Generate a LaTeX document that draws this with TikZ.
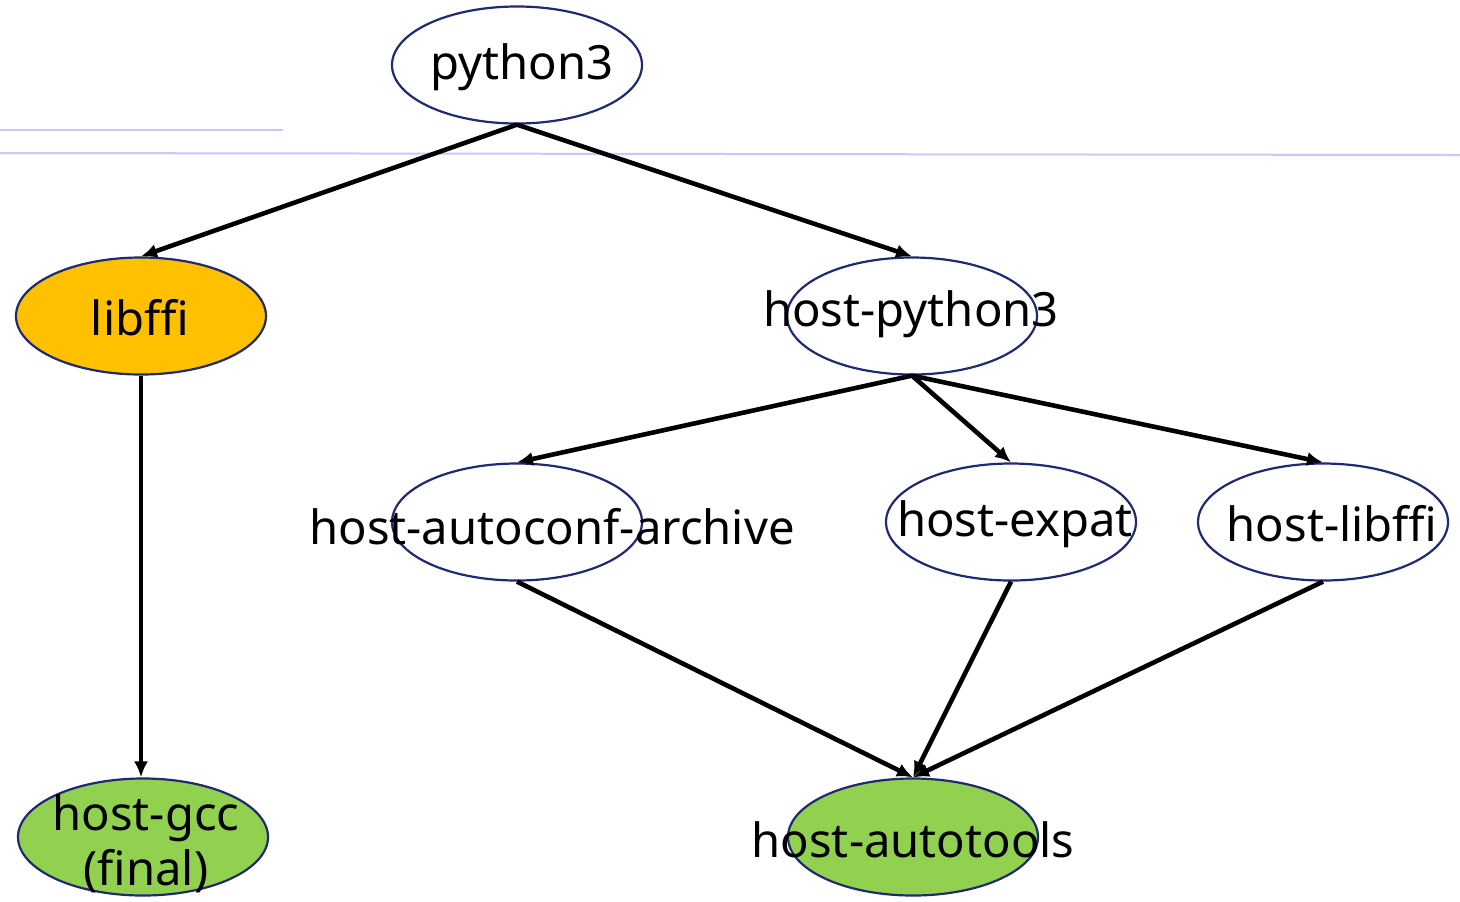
\documentclass[tikz,border=0pt]{standalone}
\usepackage{fontspec}
\setmainfont{Noto Sans}
\usepackage{xcolor}
\usetikzlibrary{arrows.meta, shapes.geometric}
\definecolor{pkgedge}{HTML}{1F2A70}
\definecolor{pkgyellow}{HTML}{FFC000}
\definecolor{pkggreen}{HTML}{92D050}
\definecolor{ruleblue}{HTML}{C3CBF6}

\begin{document}
\begin{tikzpicture}[
    x=0.5pt, y=-0.5pt,
    font=\fontsize{23.6}{27.5}\selectfont,
    pkg/.style={ellipse, draw=pkgedge, line width=1.1pt, fill=white,
        minimum width=125pt, minimum height=58.5pt, inner sep=0pt},
    target/.style={pkg, fill=pkggreen},
    changed/.style={pkg, fill=pkgyellow},
    pkgname/.style={inner sep=0pt, align=center},
    dep/.style={-{Latex[length=8pt, width=7pt]}, line width=2.3pt},
    bgrule/.style={ruleblue, line width=1pt}
]
\useasboundingbox (0,0) rectangle (1460,901);

% ---- faint rules in the background ----
\draw[bgrule] (0,130) -- (283,130);
\draw[bgrule] (0,153) -- (1460,155);

% ---- packages ----
\node[pkg] (py) at (517,65) {};
\node[changed] (ffi) at (141,316) {};
\node[pkg] (hpy) at (912,316) {};
\node[pkg] (aca) at (517,522) {};
\node[pkg] (hexp) at (1011,522) {};
\node[pkg] (hffi) at (1323,522) {};
\node[target] (gcc) at (143,837) {};
\node[target] (atools) at (913,837) {};

% ---- package names (wider than the shapes) ----
\node[pkgname] (py-t) at (522,67) {python3};
\node[pkgname] (ffi-t) at (140,318) {libffi};
\node[pkgname] (hpy-t) at (911,314) {host-python3};
\node[pkgname] (aca-t) at (552,527) {host-autoconf-archive};
\node[pkgname] (hexp-t) at (1015,524) {host-expat};
\node[pkgname] (hffi-t) at (1332,524) {host-libffi};
\node[pkgname] (gcc-t) at (146,844) {host-gcc\\(final)};
\node[pkgname] (atools-t) at (913,840) {host-autotools};

% ---- dependencies ----
\draw[dep] (py.south) -- (ffi.north);
\draw[dep] (py.south) -- (hpy.north);
\draw[dep] (ffi.south) -- (ffi.south |- gcc.north);
\foreach \t in {aca, hexp, hffi} {
    \draw[dep] (hpy.south) -- (\t.north);
    \draw[dep] (\t.south) -- (atools.north);
}

\end{tikzpicture}
\end{document}
